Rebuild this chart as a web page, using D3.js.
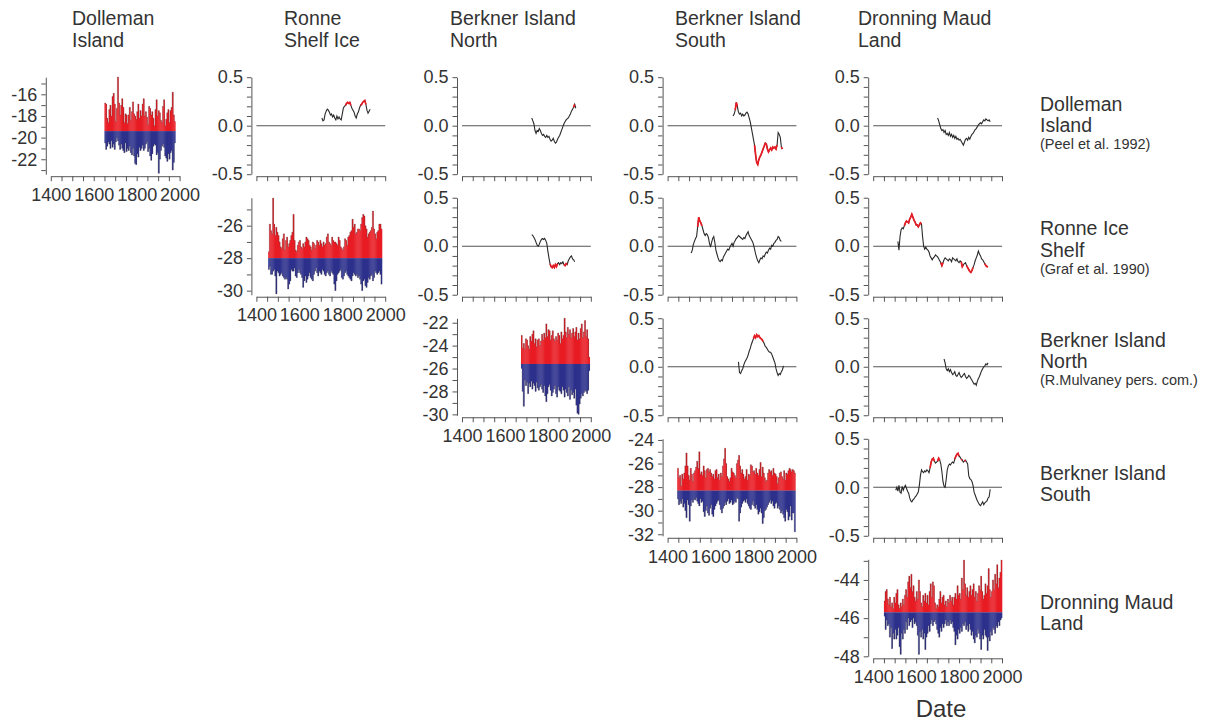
<!DOCTYPE html>
<html>
<head>
<meta charset="utf-8">
<script src="https://cdn.jsdelivr.net/npm/d3@7"></script>
<style>
body { margin: 0; background: #fff; }
text { font-family: "Liberation Sans", Arial, Helvetica, sans-serif; fill: #333; }
</style>
</head>
<body>
<svg id="chart" width="1217" height="724"></svg>
<script>
// ---- labels ----
var colTitles = [["Dolleman", "Island"], ["Ronne", "Shelf Ice"], ["Berkner Island", "North"], ["Berkner Island", "South"], ["Dronning Maud", "Land"]];
var rowLabels = [["Dolleman", "Island"], ["Ronne Ice", "Shelf"], ["Berkner Island", "North"], ["Berkner Island", "South"], ["Dronning Maud", "Land"]];
var rowSources = ["(Peel et al. 1992)", "(Graf et al. 1990)", "(R.Mulvaney pers. com.)", "", ""];
var xTicks = [1400, 1600, 1800, 2000];
var corrTicks = [-0.5, 0, 0.5];
var diagTicks = [[-16, -18, -20, -22], [-26, -28, -30], [-22, -24, -26, -28, -30], [-24, -26, -28, -30, -32], [-44, -46, -48]];
var diagDomain = [[-23.38, -14.42], [-30.25, -24.28], [-30.08, -21.61], [-32.13, -23.9], [-48.0, -42.92]];
var step = 5;

// ---- isotope records: highest / lowest value in each 5-year bin ----
var dollemanStart = 1650, dollemanMean = -19.4;
var dollemanHi = [-16.8,-16.9,-18.2,-18.6,-17.4,-17.0,-18.0,-16.2,-15.9,-16.9,
  -18.5,-17.3,-14.4,-16.8,-17.9,-17.0,-16.4,-17.2,-18.6,-17.8,
  -17.9,-18.7,-17.9,-17.2,-18.4,-17.6,-16.7,-17.8,-18.0,-18.3,
  -17.6,-16.9,-18.2,-17.5,-18.0,-16.9,-16.4,-18.0,-17.6,-18.1,
  -18.8,-17.1,-17.3,-17.9,-17.6,-18.2,-18.9,-17.4,-16.5,-18.0,
  -17.5,-17.7,-18.4,-18.6,-17.1,-16.5,-18.9,-18.3,-17.7,-17.4,
  -18.6,-17.5,-17.2,-15.8,-17.9,-18.5];
var dollemanLo = [-20.5,-21.1,-20.8,-20.4,-20.6,-21.0,-20.3,-20.9,-20.6,-21.1,
  -20.4,-20.0,-20.3,-20.7,-21.1,-20.6,-21.0,-21.2,-21.4,-20.5,
  -21.3,-21.0,-21.2,-20.8,-21.4,-21.6,-21.0,-21.7,-22.4,-22.5,
  -21.5,-21.8,-20.9,-21.2,-21.0,-20.7,-21.2,-21.0,-20.6,-20.4,
  -21.3,-21.0,-21.7,-22.1,-21.5,-20.8,-20.6,-20.7,-21.6,-21.4,
  -23.3,-22.0,-21.2,-20.8,-20.6,-20.9,-21.7,-21.9,-22.2,-21.5,
  -22.0,-21.4,-21.2,-23.0,-22.3,-20.5];

var ronneStart = 1455, ronneMean = -28.0;
var ronneHi = [-27.6,-25.9,-26.3,-26.5,-24.3,-25.9,-26.6,-26.1,-26.4,-26.6,
  -27.0,-27.3,-27.4,-26.8,-26.5,-27.5,-26.9,-26.7,-27.3,-27.1,
  -26.9,-26.6,-26.4,-25.3,-26.9,-27.5,-27.6,-27.2,-27.0,-26.9,
  -27.3,-27.4,-27.1,-27.3,-27.0,-26.7,-26.8,-26.9,-27.2,-27.3,
  -27.5,-27.0,-27.1,-27.4,-27.2,-26.9,-27.0,-27.2,-26.9,-27.1,
  -27.3,-27.0,-27.2,-27.1,-26.7,-26.5,-27.0,-27.1,-27.2,-26.7,
  -26.9,-27.0,-27.0,-27.1,-27.2,-26.7,-26.9,-27.3,-27.4,-27.5,
  -27.3,-26.8,-26.9,-27.2,-26.7,-26.6,-26.4,-26.3,-25.6,-26.1,
  -25.9,-26.5,-26.4,-26.2,-26.2,-26.3,-25.9,-25.5,-25.3,-25.4,
  -26.0,-26.2,-26.7,-26.5,-26.4,-26.3,-26.1,-25.1,-26.2,-26.5,
  -26.8,-26.4,-26.3,-25.9,-25.9,-26.2];
var ronneLo = [-28.7,-28.5,-29.0,-29.0,-28.8,-28.7,-29.1,-30.2,-28.8,-28.9,
  -29.1,-29.0,-28.9,-29.1,-29.2,-29.3,-29.2,-29.3,-29.9,-29.6,
  -29.4,-28.7,-28.8,-28.8,-28.6,-29.1,-29.2,-28.9,-28.7,-28.9,
  -29.0,-29.2,-29.8,-29.4,-29.1,-29.5,-29.3,-29.1,-28.9,-29.2,
  -29.3,-29.4,-29.0,-28.8,-28.6,-28.9,-29.1,-28.8,-28.9,-29.0,
  -28.7,-28.8,-29.0,-29.1,-28.9,-28.8,-29.0,-29.1,-28.8,-28.9,
  -29.0,-29.6,-30.0,-29.4,-29.0,-28.9,-28.8,-28.7,-29.2,-29.3,
  -29.1,-28.9,-28.8,-29.0,-29.1,-29.2,-29.3,-29.4,-29.1,-28.9,
  -29.0,-29.1,-29.0,-29.2,-29.1,-29.3,-29.6,-30.0,-29.4,-29.3,
  -29.7,-29.8,-29.5,-29.2,-29.3,-29.1,-29.0,-29.4,-29.2,-28.8,
  -28.9,-29.0,-28.9,-28.8,-29.0,-29.6];

var binStart = 1675, binMean = -25.6;
var binHi = [-23.1,-24.2,-23.8,-24.3,-23.4,-23.5,-24.0,-24.3,-23.2,-23.6,
  -23.0,-22.7,-23.8,-23.4,-24.1,-23.5,-23.4,-24.0,-23.6,-23.0,
  -23.5,-22.9,-23.3,-22.1,-23.2,-22.6,-22.7,-23.5,-23.1,-22.7,
  -23.4,-23.6,-23.2,-23.5,-22.9,-23.1,-23.8,-22.8,-23.4,-23.1,
  -21.6,-22.8,-23.3,-22.4,-23.0,-22.6,-23.3,-22.9,-22.5,-23.2,
  -22.8,-22.4,-23.5,-22.9,-23.4,-22.5,-22.1,-23.3,-22.8,-21.8,
  -23.2,-22.6,-23.4,-25.0];
var binLo = [-26.0,-28.0,-29.3,-27.0,-27.5,-27.2,-28.2,-27.3,-27.6,-27.1,
  -27.8,-27.3,-27.5,-28.0,-27.2,-27.7,-27.9,-27.6,-27.4,-27.8,
  -28.1,-27.5,-28.4,-28.9,-28.2,-27.6,-27.4,-27.9,-28.4,-28.1,
  -27.8,-27.5,-28.2,-28.5,-27.6,-27.9,-28.0,-28.2,-27.6,-27.9,
  -28.5,-27.8,-28.1,-28.4,-27.6,-28.7,-27.9,-28.3,-28.1,-28.6,
  -27.8,-29.2,-29.9,-30.0,-29.1,-28.6,-28.2,-28.4,-28.1,-27.9,
  -28.0,-28.2,-27.9,-26.2];

var bisStart = 1445, bisMean = -28.3;
var bisHi = [-26.4,-27.2,-27.0,-27.9,-26.9,-27.3,-26.8,-26.2,-25.1,-26.2,
  -27.0,-27.4,-26.4,-26.9,-27.5,-26.8,-26.6,-26.3,-25.8,-26.4,
  -25.0,-26.9,-26.7,-27.0,-26.2,-26.6,-27.2,-26.5,-26.4,-26.7,
  -26.5,-26.8,-27.1,-26.9,-27.3,-26.6,-26.5,-27.2,-26.9,-27.4,
  -26.8,-27.1,-26.2,-25.6,-24.7,-26.0,-27.1,-27.3,-27.5,-27.2,
  -26.4,-26.7,-26.8,-27.0,-27.2,-26.0,-25.7,-25.3,-26.2,-26.8,
  -26.5,-26.9,-27.3,-27.1,-26.5,-27.4,-26.9,-27.0,-26.1,-26.2,
  -26.7,-26.6,-26.9,-26.4,-26.8,-27.0,-26.5,-25.9,-27.1,-26.3,
  -26.8,-27.2,-27.5,-27.4,-26.8,-26.5,-26.7,-26.6,-27.0,-26.4,
  -26.8,-26.9,-27.1,-27.7,-27.2,-26.8,-26.7,-27.1,-27.3,-26.6,
  -27.4,-26.8,-26.9,-26.6,-26.4,-26.5,-26.7,-26.5,-26.6,-26.8];
var bisLo = [-29.0,-29.5,-29.2,-29.4,-29.0,-29.7,-29.4,-30.0,-30.6,-29.1,
  -29.5,-30.9,-29.6,-29.1,-29.3,-29.0,-29.1,-28.9,-29.2,-29.4,
  -29.6,-29.0,-29.3,-29.2,-30.1,-30.5,-30.0,-29.6,-30.2,-30.4,
  -29.8,-29.5,-30.3,-30.5,-29.9,-29.6,-29.4,-29.2,-29.1,-29.5,
  -29.9,-30.2,-29.8,-29.6,-29.3,-29.5,-29.2,-29.0,-29.4,-29.3,
  -29.1,-29.5,-29.4,-29.2,-29.3,-28.9,-29.0,-30.9,-30.2,-29.7,
  -29.4,-29.2,-29.1,-29.3,-29.0,-29.4,-29.6,-29.8,-29.9,-29.5,
  -29.2,-29.6,-29.8,-29.5,-29.9,-30.3,-30.1,-29.8,-30.2,-31.1,
  -30.6,-30.0,-29.9,-29.7,-29.5,-29.3,-29.1,-29.4,-29.2,-29.6,
  -29.8,-29.4,-29.3,-29.8,-29.6,-29.9,-30.2,-30.0,-30.3,-30.6,
  -30.9,-29.9,-30.1,-30.8,-30.5,-29.6,-30.8,-30.2,-30.2,-31.8];

var dmlStart = 1450, dmlMean = -45.7;
var dmlHi = [-45.1,-44.6,-44.5,-45.0,-45.3,-44.9,-45.4,-45.2,-45.5,-44.9,
  -45.2,-44.7,-44.5,-45.3,-45.5,-45.2,-45.4,-45.0,-45.3,-44.8,
  -44.5,-44.9,-44.1,-43.8,-44.4,-43.7,-44.6,-44.3,-44.9,-45.1,
  -44.6,-45.0,-44.0,-44.6,-45.2,-45.4,-44.8,-45.1,-44.7,-45.2,
  -44.8,-45.3,-44.6,-44.2,-44.9,-44.1,-44.3,-45.2,-45.5,-45.3,
  -45.4,-45.0,-44.6,-45.2,-44.9,-44.8,-45.3,-45.1,-45.4,-45.0,
  -45.2,-44.8,-45.1,-44.9,-45.3,-44.9,-44.7,-45.0,-44.3,-44.8,
  -44.7,-45.0,-43.9,-44.5,-42.96,-44.2,-44.8,-44.4,-44.9,-44.6,
  -44.3,-44.8,-44.5,-44.2,-44.9,-44.6,-45.1,-44.7,-44.3,-44.5,
  -43.8,-44.6,-45.0,-44.8,-44.2,-44.7,-44.3,-43.4,-44.5,-44.9,
  -44.6,-44.0,-44.5,-43.7,-44.2,-43.2,-44.4,-43.9,-43.6,-42.96];
var dmlLo = [-45.9,-46.6,-46.1,-46.4,-46.3,-47.0,-46.5,-47.6,-46.8,-47.1,
  -46.6,-47.1,-46.9,-46.5,-47.5,-47.9,-46.8,-47.1,-46.6,-46.8,
  -46.2,-46.6,-46.0,-46.4,-46.2,-46.1,-46.5,-46.0,-46.3,-46.2,
  -46.4,-46.9,-47.9,-46.7,-47.0,-46.6,-47.1,-46.8,-47.65,-47.0,
  -46.8,-46.4,-46.7,-46.3,-46.1,-46.4,-46.2,-46.1,-46.3,-46.6,
  -46.8,-47.0,-46.5,-46.7,-46.3,-46.5,-46.3,-46.1,-46.4,-46.2,
  -46.4,-46.1,-46.3,-46.2,-46.5,-46.7,-47.4,-46.9,-47.1,-46.6,
  -46.8,-46.5,-46.7,-46.3,-46.4,-46.2,-46.6,-46.4,-46.7,-46.3,
  -46.6,-46.9,-46.7,-47.1,-47.3,-46.9,-47.0,-46.6,-46.8,-47.1,
  -47.65,-46.9,-47.1,-46.6,-46.9,-47.0,-47.7,-47.0,-47.2,-46.7,
  -46.9,-46.5,-46.6,-46.8,-46.4,-46.5,-46.2,-46.4,-46.1,-46.0];

// ---- running correlations (5-year steps) and significant spans ----
var rDolRon = [0.08,0.05,0.06,0.12,0.15,0.17,0.16,0.14,0.11,0.12,
  0.09,0.11,0.08,0.06,0.10,0.07,0.09,0.07,0.06,0.12,
  0.18,0.20,0.21,0.23,0.24,0.23,0.24,0.21,0.18,0.16,
  0.14,0.10,0.08,0.12,0.14,0.18,0.21,0.22,0.24,0.25,
  0.26,0.22,0.16,0.13,0.15,0.17];
var sigDolRon = [[1815, 1840], [1885, 1910]];
var rDolBin = [0.08,0.05,0.02,-0.05,-0.08,-0.05,-0.06,-0.03,-0.05,-0.08,
  -0.10,-0.09,-0.11,-0.12,-0.10,-0.12,-0.11,-0.14,-0.16,-0.15,
  -0.13,-0.16,-0.18,-0.17,-0.14,-0.12,-0.10,-0.07,-0.04,-0.01,
  0.02,0.04,0.06,0.07,0.08,0.10,0.12,0.15,0.17,0.19,
  0.22,0.18];
var sigDolBin = [[1920, 1925]];
var rDolBis = [0.10,0.12,0.16,0.24,0.20,0.14,0.12,0.13,0.10,0.12,
  0.10,0.11,0.13,0.14,0.12,0.08,0.04,-0.02,-0.08,-0.14,
  -0.20,-0.30,-0.38,-0.40,-0.35,-0.32,-0.30,-0.27,-0.24,-0.21,
  -0.18,-0.19,-0.24,-0.27,-0.25,-0.23,-0.25,-0.22,-0.23,-0.22,
  -0.24,-0.20,-0.07,-0.09,-0.12,-0.22,-0.24];
var sigDolBis = [[1715, 1725], [1805, 1910], [1930, 1935]];
var rDolDml = [0.08,0.05,0.01,-0.03,-0.05,-0.04,-0.07,-0.05,-0.09,-0.08,
  -0.10,-0.07,-0.11,-0.09,-0.12,-0.10,-0.13,-0.11,-0.14,-0.13,
  -0.15,-0.14,-0.16,-0.18,-0.20,-0.17,-0.14,-0.13,-0.15,-0.12,
  -0.14,-0.11,-0.09,-0.08,-0.06,-0.04,-0.03,-0.01,0.01,0.02,
  0.03,0.02,0.04,0.06,0.05,0.07,0.06,0.05,0.06,0.04];
var sigDolDml = [];
var rRonBin = [0.12,0.11,0.09,0.07,0.04,0.01,0.00,0.02,0.05,0.07,
  0.08,0.07,0.08,0.06,0.03,-0.05,-0.12,-0.18,-0.21,-0.22,
  -0.20,-0.22,-0.19,-0.21,-0.18,-0.17,-0.19,-0.17,-0.18,-0.16,
  -0.19,-0.20,-0.18,-0.19,-0.15,-0.13,-0.11,-0.10,-0.13,-0.14,
  -0.16];
var sigRonBin = [[1810, 1845], [1875, 1890]];
var rRonBis = [-0.07,-0.04,0.02,0.05,0.08,0.10,0.20,0.30,0.26,0.24,
  0.21,0.17,0.13,0.11,0.13,0.12,0.09,0.03,-0.01,0.04,
  0.08,0.10,0.04,-0.04,-0.08,-0.12,-0.15,-0.16,-0.14,-0.15,
  -0.11,-0.09,-0.07,-0.05,-0.03,-0.04,-0.01,0.01,0.03,0.00,
  0.04,0.06,0.08,0.09,0.11,0.10,0.09,0.08,0.07,0.09,
  0.08,0.11,0.13,0.15,0.11,0.09,0.07,0.05,0.02,-0.03,
  -0.08,-0.12,-0.15,-0.17,-0.14,-0.12,-0.13,-0.10,-0.11,-0.08,
  -0.06,-0.07,-0.04,-0.02,-0.03,0.01,0.00,0.03,0.04,0.06,
  0.07,0.10,0.09,0.06,0.05];
var sigRonBis = [[1540, 1560]];
var rRonDml = [0.05,-0.04,0.10,0.17,0.19,0.18,0.21,0.24,0.26,0.25,
  0.24,0.28,0.30,0.33,0.30,0.27,0.25,0.22,0.22,0.20,
  0.22,0.24,0.23,0.10,0.00,-0.03,-0.01,-0.03,-0.04,-0.06,
  -0.10,-0.12,-0.14,-0.12,-0.11,-0.09,-0.10,-0.11,-0.13,-0.15,
  -0.17,-0.20,-0.17,-0.14,-0.12,-0.13,-0.14,-0.15,-0.13,-0.14,
  -0.16,-0.12,-0.13,-0.14,-0.15,-0.13,-0.16,-0.17,-0.15,-0.16,
  -0.21,-0.19,-0.18,-0.17,-0.20,-0.22,-0.24,-0.26,-0.27,-0.25,
  -0.22,-0.19,-0.15,-0.12,-0.09,-0.05,-0.08,-0.10,-0.13,-0.14,
  -0.16,-0.18,-0.20,-0.21,-0.21];
var sigRonDml = [[1545, 1625], [1715, 1725], [1810, 1820], [1835, 1865], [1920, 1935]];
var rBinBis = [0.05,-0.06,-0.07,-0.04,-0.02,0.02,0.05,0.07,0.09,0.12,
  0.16,0.19,0.23,0.26,0.29,0.32,0.30,0.33,0.31,0.32,
  0.30,0.29,0.28,0.26,0.24,0.21,0.20,0.18,0.16,0.15,
  0.15,0.13,0.10,0.07,0.04,-0.02,-0.06,-0.09,-0.07,-0.08,
  -0.05,-0.03,0.01];
var sigBinBis = [[1800, 1845]];
var rBinDml = [0.08,0.04,-0.02,-0.04,-0.02,-0.05,-0.03,-0.06,-0.08,-0.07,
  -0.05,-0.09,-0.10,-0.08,-0.06,-0.09,-0.11,-0.10,-0.08,-0.07,
  -0.10,-0.12,-0.11,-0.09,-0.10,-0.12,-0.14,-0.16,-0.18,-0.17,
  -0.19,-0.15,-0.12,-0.10,-0.07,-0.04,-0.02,0.00,0.01,0.03,
  0.02,0.04];
var sigBinDml = [];
var rBisDml = [-0.03,0.00,-0.04,0.02,-0.05,-0.06,0.01,-0.03,0.00,0.02,
  -0.01,-0.04,-0.06,-0.11,-0.14,-0.15,-0.13,-0.12,-0.10,-0.09,
  -0.07,-0.05,0.02,0.12,0.18,0.16,0.15,0.17,0.16,0.18,
  0.17,0.15,0.20,0.26,0.29,0.30,0.27,0.25,0.26,0.27,
  0.30,0.28,0.24,0.16,0.06,0.01,0.00,0.08,0.18,0.22,
  0.24,0.23,0.25,0.26,0.25,0.29,0.32,0.34,0.35,0.32,
  0.31,0.29,0.28,0.26,0.27,0.28,0.26,0.24,0.12,0.09,
  0.08,0.06,0.02,-0.05,-0.08,-0.11,-0.14,-0.16,-0.18,-0.19,
  -0.17,-0.15,-0.18,-0.16,-0.15,-0.14,-0.11,-0.10,-0.02];
var sigBisDml = [[1665, 1685], [1700, 1710], [1780, 1800], [1810, 1815], [1825, 1830]];

var records = [
  {start: dollemanStart, hi: dollemanHi, lo: dollemanLo, mean: dollemanMean},
  {start: ronneStart, hi: ronneHi, lo: ronneLo, mean: ronneMean},
  {start: binStart, hi: binHi, lo: binLo, mean: binMean},
  {start: bisStart, hi: bisHi, lo: bisLo, mean: bisMean},
  {start: dmlStart, hi: dmlHi, lo: dmlLo, mean: dmlMean}
];
var corrs = [
  {row: 0, col: 1, start: 1705, r: rDolRon, sig: sigDolRon},
  {row: 0, col: 2, start: 1725, r: rDolBin, sig: sigDolBin},
  {row: 0, col: 3, start: 1705, r: rDolBis, sig: sigDolBis},
  {row: 0, col: 4, start: 1700, r: rDolDml, sig: sigDolDml},
  {row: 1, col: 2, start: 1725, r: rRonBin, sig: sigRonBin},
  {row: 1, col: 3, start: 1510, r: rRonBis, sig: sigRonBis},
  {row: 1, col: 4, start: 1515, r: rRonDml, sig: sigRonDml},
  {row: 2, col: 3, start: 1730, r: rBinBis, sig: sigBinBis},
  {row: 2, col: 4, start: 1730, r: rBinDml, sig: sigBinDml},
  {row: 3, col: 4, start: 1505, r: rBisDml, sig: sigBisDml}
];

// ---- layout ----
var svg = d3.select('#chart');
var pw = 128.8, half = 48.5;
var red = '#e81c24', blue = '#2d318c', axisCol = '#555';
function colX(i) { return 50.8 + i * 205.6; }
function rowZero(j) { return 125.7 + j * 120.53; }

function styleAxis(g) {
  g.attr('font-size', null).attr('font-family', null);
  g.selectAll('path, line').attr('stroke', axisCol).attr('stroke-width', 1);
  g.selectAll('text').style('font-size', '18px');
}

function drawFrame(col, row, y, yTickVals, yLabelVals, fmt, showX) {
  var x = d3.scaleLinear().domain([1400, 2000]).range([colX(col), colX(col) + pw]);
  var yAx = d3.axisLeft(y).tickValues(yTickVals).tickSize(4.5).tickSizeOuter(0).tickPadding(4)
    .tickFormat(function(d) {
      return yLabelVals.some(function(v) { return Math.abs(v - d) < 1e-6; }) ? fmt(d) : '';
    });
  svg.append('g').attr('transform', 'translate(' + (colX(col) - 5) + ',0)').call(yAx).call(styleAxis);
  var xAx = d3.axisBottom(x).tickValues(d3.range(1400, 2001, 50)).tickSize(5).tickSizeOuter(0).tickPadding(7)
    .tickFormat(function(d) { return showX && xTicks.indexOf(d) >= 0 ? d : ''; });
  svg.append('g').attr('transform', 'translate(0,' + (rowZero(row) + half + 2) + ')').call(xAx).call(styleAxis);
  return x;
}

// diagonal panels: isotope records
records.forEach(function(rec, k) {
  var z = rowZero(k);
  var y = d3.scaleLinear().domain(diagDomain[k]).range([z + half, z - half]);
  var ticks = d3.range(Math.ceil(diagDomain[k][0] - 0.01), Math.floor(diagDomain[k][1]) + 1);
  var x = drawFrame(k, k, y, ticks, diagTicks[k], function(d) { return String(d).replace('\u2212', '-'); }, true);
  var bw = x(rec.start + step) - x(rec.start) + 0.3;
  var g = svg.append('g');
  g.selectAll('rect.hi').data(rec.hi).join('rect').attr('class', 'hi')
    .attr('x', function(d, i) { return x(rec.start + i * step); })
    .attr('width', bw)
    .attr('y', function(d) { return y(d); })
    .attr('height', function(d) { return y(rec.mean) - y(d); })
    .attr('fill', red);
  g.selectAll('rect.lo').data(rec.lo).join('rect').attr('class', 'lo')
    .attr('x', function(d, i) { return x(rec.start + i * step); })
    .attr('width', bw)
    .attr('y', y(rec.mean))
    .attr('height', function(d) { return y(d) - y(rec.mean); })
    .attr('fill', blue);
  var edge = d3.line().curve(d3.curveStepAfter)
    .x(function(d, i) { return x(rec.start + i * step); })
    .y(function(d) { return y(d); });
  [rec.hi, rec.lo].forEach(function(arr) {
    g.append('path').attr('d', edge(arr.concat([arr[arr.length - 1]])))
      .attr('fill', 'none').attr('stroke', '#3a3030').attr('stroke-opacity', 0.45).attr('stroke-width', 0.6);
  });
});

// upper panels: running correlations
corrs.forEach(function(c) {
  var z = rowZero(c.row);
  var y = d3.scaleLinear().domain([-0.5, 0.5]).range([z + half, z - half]);
  var ticks = d3.range(-5, 6).map(function(v) { return v / 10; });
  var x = drawFrame(c.col, c.row, y, ticks, corrTicks, function(d) { return d.toFixed(1); }, false);
  svg.append('line').attr('x1', x(1400)).attr('x2', x(2000)).attr('y1', y(0)).attr('y2', y(0))
    .attr('stroke', axisCol).attr('stroke-width', 1.1);
  var pts = c.r.map(function(v, i) { return {year: c.start + i * step, r: v}; });
  var line = d3.line().x(function(d) { return x(d.year); }).y(function(d) { return y(d.r); });
  svg.append('path').attr('d', line(pts)).attr('fill', 'none').attr('stroke', '#2a2a2a').attr('stroke-width', 1.1);
  c.sig.forEach(function(s) {
    var seg = pts.filter(function(p) { return p.year >= s[0] && p.year <= s[1]; });
    svg.append('path').attr('d', line(seg)).attr('fill', 'none').attr('stroke', red).attr('stroke-width', 1.7);
  });
});

// column titles
var titleX = [72, 284, 450, 675, 858];
colTitles.forEach(function(t, i) {
  t.forEach(function(s, k) {
    svg.append('text').attr('x', titleX[i]).attr('y', 25 + k * 22).style('font-size', '19.5px').text(s);
  });
});

// row labels
var rowBase = [110.5, 235, 346.5, 479.5, 608.5];
rowLabels.forEach(function(t, j) {
  t.forEach(function(s, k) {
    svg.append('text').attr('x', 1040).attr('y', rowBase[j] + k * 21.5).style('font-size', '19.5px').text(s);
  });
  if (rowSources[j]) {
    svg.append('text').attr('x', 1040).attr('y', rowBase[j] + 38.5).style('font-size', '14.5px').text(rowSources[j]);
  }
});

svg.append('text').attr('x', 941).attr('y', 717).attr('text-anchor', 'middle').style('font-size', '24px').text('Date');
</script>
</body>
</html>
